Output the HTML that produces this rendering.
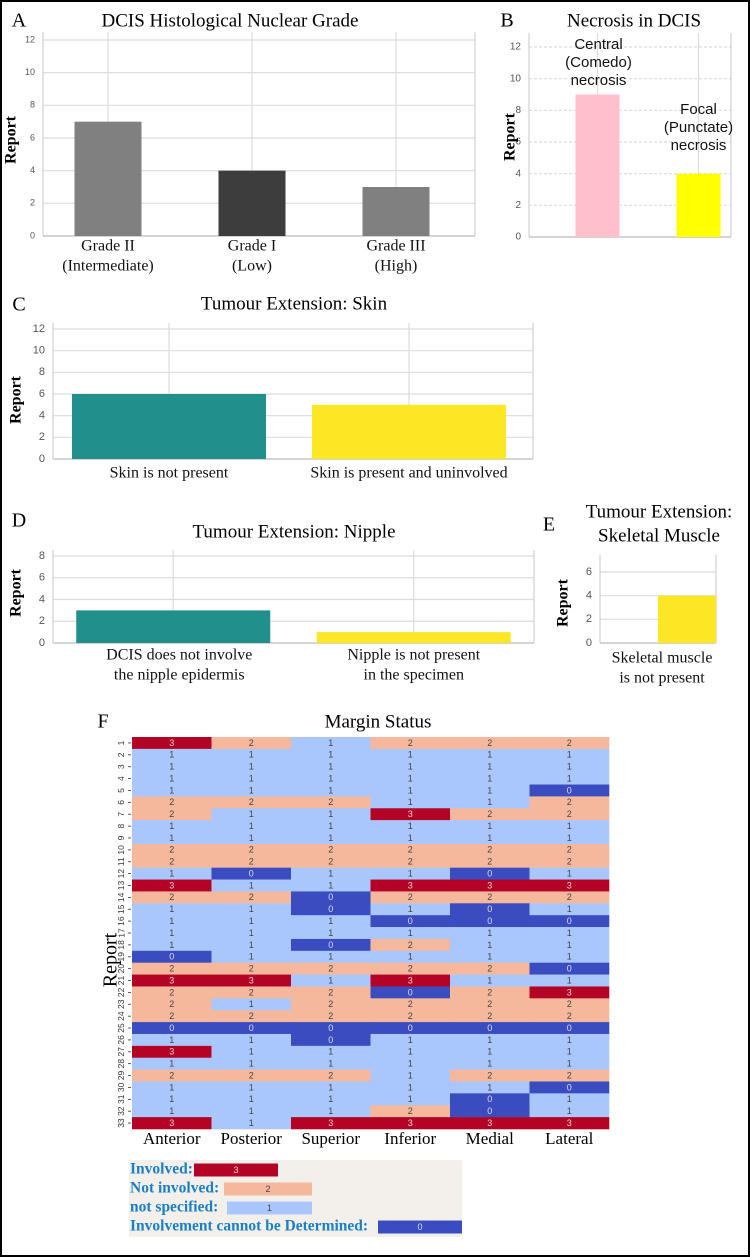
<!DOCTYPE html>
<html><head><meta charset="utf-8">
<style>
html,body{margin:0;padding:0;background:#fff;}
svg{display:block;}
.serif{font-family:"Liberation Serif",serif;}
.sans{font-family:"Liberation Sans",sans-serif;}
</style></head>
<body>
<svg id="root" width="750" height="1257" viewBox="0 0 750 1257" xmlns="http://www.w3.org/2000/svg">
<rect x="1" y="1" width="748" height="1255" fill="#fff" stroke="#000" stroke-width="2"/>
<rect x="129" y="1160" width="333" height="77" fill="#f3f0eb"/>
<g id="charts"></g>
</svg>
<script>
// ---- data ----
const gradeCats = ["Grade II|(Intermediate)", "Grade I|(Low)", "Grade III|(High)"];
const gradeVals = [7, 4, 3];
const gradeTicks = [0, 2, 4, 6, 8, 10, 12];
const necCats = ["Central|(Comedo)|necrosis", "Focal|(Punctate)|necrosis"];
const necVals = [9, 4];
const necTicks = [0, 2, 4, 6, 8, 10, 12];
const skinCats = ["Skin is not present", "Skin is present and uninvolved"];
const skinVals = [6, 5];
const skinTicks = [0, 2, 4, 6, 8, 10, 12];
const nipCats = ["DCIS does not involve|the nipple epidermis", "Nipple is not present|in the specimen"];
const nipVals = [3, 1];
const nipTicks = [0, 2, 4, 6, 8];
const musCats = ["Skeletal muscle|is not present"];
const musVals = [4];
const musTicks = [0, 2, 4, 6];
const marginCols = ["Anterior", "Posterior", "Superior", "Inferior", "Medial", "Lateral"];
const marginRows = ["1","2","3","4","5","6","7","8","9","10","11","12","13","14","15","16","17","18","19","20","21","22","23","24","25","26","27","28","29","30","31","32","33"];
const marginVals = [
[3,2,1,2,2,2],[1,1,1,1,1,1],[1,1,1,1,1,1],[1,1,1,1,1,1],[1,1,1,1,1,0],
[2,2,2,1,1,2],[2,1,1,3,2,2],[1,1,1,1,1,1],[1,1,1,1,1,1],[2,2,2,2,2,2],
[2,2,2,2,2,2],[1,0,1,1,0,1],[3,1,1,3,3,3],[2,2,0,2,2,2],[1,1,0,1,0,1],
[1,1,1,0,0,0],[1,1,1,1,1,1],[1,1,0,2,1,1],[0,1,1,1,1,1],[2,2,2,2,2,0],
[3,3,1,3,1,1],[2,2,2,0,2,3],[2,1,2,2,2,2],[2,2,2,2,2,2],[0,0,0,0,0,0],
[1,1,0,1,1,1],[3,1,1,1,1,1],[1,1,1,1,1,1],[2,2,2,1,2,2],[1,1,1,1,1,0],
[1,1,1,1,0,1],[1,1,1,2,0,1],[3,1,3,3,3,3]];
const legendLabels = ["Involved:", "Not involved:", "not specified:", "Involvement cannot be Determined:"];
const legendVals = [3, 2, 1, 0];

const NS = "http://www.w3.org/2000/svg";
const G = document.getElementById("charts");
function mk(tag, attrs, parent, text){
  const e = document.createElementNS(NS, tag);
  for (const k in attrs) e.setAttribute(k, attrs[k]);
  if (text !== undefined) e.textContent = text;
  (parent||G).appendChild(e);
  return e;
}
function txt(x, y, s, size, cls, anchor, fill, weight, rot){
  const t = mk("text", {x:x, y:y, "font-size":size, class:cls, "text-anchor":anchor||"middle", fill:fill||"#000", "dominant-baseline":"middle"}, G, s);
  if (weight) t.setAttribute("font-weight", weight);
  if (rot) t.setAttribute("transform", "rotate(" + rot + " " + x + " " + y + ")");
  return t;
}

function barChart(o){
  const maxT = o.ticks[o.ticks.length-1];
  const ys = v => o.y0 - (o.y0 - o.yMaxTick) * v / maxT;
  const n = o.cats.length;
  const band = (o.x1 - o.x0) / n;
  const xc = i => o.x0 + band * (i + 0.5) + (o.shift || 0);
  const g = mk("g", {}, G);
  
  
  o.ticks.forEach(t => {
    const l = mk("line", {x1:o.x0, x2:o.x1, y1:ys(t), y2:ys(t), stroke:"#dcdcdc", "stroke-width":1.2}, g);
    if (o.dashed && t>0) l.setAttribute("stroke-dasharray", "3,2");
    
    
    const tl = txt(o.x0 - 8, ys(t), String(t), o.tickSize || 9, "sans", "end", "#555");
    
    
  });
  mk("line", {x1:o.x0, x2:o.x0, y1:o.yTop, y2:o.y0, stroke:"#d0d0d0", "stroke-width":1.2}, g);
  mk("line", {x1:o.x1, x2:o.x1, y1:o.yTop, y2:o.y0, stroke:"#d0d0d0", "stroke-width":1.2}, g);
  mk("line", {x1:o.x0, x2:o.x1, y1:o.y0, y2:o.y0, stroke:"#c8c8c8", "stroke-width":1.5}, g);
  o.vals.forEach((v, i) => {
    if (o.vgrid) {
      const vl = mk("line", {x1:xc(i), x2:xc(i), y1:o.yTop, y2:o.y0, stroke:"#dcdcdc", "stroke-width":1.2}, g);
      
      
    }
  });
  o.vals.forEach((v, i) => {
    const r = mk("rect", {x:xc(i)-o.barW/2, y:ys(v), width:o.barW, height:o.y0-ys(v), fill:o.colors[i]}, g);
    
    
    const lines = o.cats[i].split("|");
    lines.forEach((s, k) => {
      const ly = o.labelY != null ? o.labelY + k*o.labelLH : o.labelYs[i] + k*o.labelLH;
      const t = txt(xc(i) + (o.labelDx ? o.labelDx[i] : 0), ly, s, o.labelSize, o.labelCls, "middle", "#111");
      
      
    });
  });
  const rp = txt(o.reportX, o.reportY, "Report", o.reportSize || 16, "serif", "middle", "#000", "bold", -90);
  
  
}

function title(x, y, s, size, name){
  const t = txt(x, y, s, size, "serif", "middle", "#000");
  
  
}
function panel(x, y, s){
  const t = txt(x, y, s, 20, "serif", "middle", "#000");
  
  
}

// A
panel(19, 22, "A");
title(230, 22, "DCIS Histological Nuclear Grade", 19, "chart-title-grade");
barChart({name:"grade", x0:43, x1:475, yTop:32, y0:236, yMaxTick:40, ticks:gradeTicks, cats:gradeCats, vals:gradeVals,
  colors:["#808080","#3d3d3d","#808080"], barW:67, vgrid:true, labelY:247, labelLH:20, labelSize:16, labelCls:"serif",
  reportX:12, reportY:140, shift:-7});
// B
panel(507, 22, "B");
title(634, 22, "Necrosis in DCIS", 19, "chart-title-necrosis");
barChart({name:"necrosis", x0:529, x1:731, yTop:33, y0:237, yMaxTick:47, ticks:necTicks, cats:necCats, vals:necVals,
  colors:["#ffc0cb","#ffff00"], barW:44, vgrid:true, dashed:true, labelYs:[45,110], labelLH:18, labelSize:15, labelCls:"sans",
  reportX:511, reportY:137, tickSize:10, shift:18, labelDx:[1,0]});
// C
panel(19, 306, "C");
title(294, 305, "Tumour Extension: Skin", 19, "chart-title-skin");
barChart({name:"skin", x0:53, x1:533, yTop:323, y0:459, yMaxTick:329, ticks:skinTicks, cats:skinCats, vals:skinVals,
  colors:["#21908d","#fde725"], barW:194, vgrid:true, labelY:474, labelLH:20, labelSize:16, labelCls:"serif",
  reportX:17, reportY:400, tickSize:11, shift:-4});
// D
panel(19, 522, "D");
title(294, 533, "Tumour Extension: Nipple", 19, "chart-title-nipple");
barChart({name:"nipple", x0:53, x1:534, yTop:550, y0:643, yMaxTick:556, ticks:nipTicks, cats:nipCats, vals:nipVals,
  colors:["#21908d","#fde725"], barW:194, vgrid:true, labelY:656, labelLH:20, labelSize:16, labelCls:"serif",
  reportX:17, reportY:593, tickSize:11, shift:0, labelDx:[6,0]});
// E
panel(549, 526, "E");
title(659, 513, "Tumour Extension:", 19, "chart-title-muscle-line1");
title(659, 537, "Skeletal Muscle", 19, "chart-title-muscle-line2");
barChart({name:"muscle", x0:600, x1:716, yTop:555, y0:643, yMaxTick:572, ticks:musTicks, cats:musCats, vals:musVals,
  colors:["#fde725"], barW:58, vgrid:false, labelY:659, labelLH:20, labelSize:16, labelCls:"serif",
  reportX:564, reportY:603, tickSize:11, shift:29, labelDx:[-25]});

// F heatmap
panel(103, 723, "F");
title(378, 723, "Margin Status", 19, "chart-title-margin");
const cmap = {3:"#b40426", 2:"#f5b89c", 1:"#aac7fd", 0:"#3b4cc0"};
const txtCol = {3:"#f2d0d0", 2:"#444", 1:"#444", 0:"#dde"};
const hx0 = 132, hx1 = 609, hy0 = 737, hy1 = 1129;
const cw = (hx1-hx0)/marginCols.length, rh = (hy1-hy0)/marginRows.length;
const hg = mk("g", {}, G);


marginVals.forEach((row, r) => {
  row.forEach((v, c) => {
    const cell = mk("rect", {x:hx0+c*cw, y:hy0+r*rh, width:cw+0.3, height:rh+0.3, fill:cmap[v]}, hg);
    
    
    const t = mk("text", {x:hx0+(c+0.5)*cw, y:hy0+(r+0.5)*rh+0.5, "font-size":9, class:"sans", "text-anchor":"middle", "dominant-baseline":"middle", fill:txtCol[v]}, hg, String(v));
    
    
  });
  const yl = hy0+(r+0.5)*rh;
  const rl = mk("text", {x:122, y:yl, "font-size":8.5, class:"sans", "text-anchor":"middle", "dominant-baseline":"middle", fill:"#333", transform:"rotate(-90 122 " + yl + ")"}, hg, marginRows[r]);
  
  
  mk("line", {x1:128, x2:131, y1:yl, y2:yl, stroke:"#333", "stroke-width":0.8}, hg);
});
marginCols.forEach((s, c) => {
  const t = txt(hx0+(c+0.5)*cw, 1140, s, 17, "serif", "middle", "#000");
  
  
});
const hr = txt(112, 960, "Report", 20, "serif", "middle", "#000", null, -90);



// legend
const legX = [[194,278],[224,312],[227,312],[378,462]];
const legY = [1170, 1189, 1208, 1227];
legendLabels.forEach((s, i) => {
  const t = txt(130, legY[i], s, 15.5, "serif", "start", "#1a7fc4", "bold");
  
  
  const sw = mk("rect", {x:legX[i][0], y:legY[i]-6.5, width:legX[i][1]-legX[i][0], height:13, fill:cmap[legendVals[i]]});
  
  
  const v = txt((legX[i][0]+legX[i][1])/2, legY[i]+0.5, String(legendVals[i]), 9, "sans", "middle", txtCol[legendVals[i]]);
  
  
});
</script>
</body></html>
